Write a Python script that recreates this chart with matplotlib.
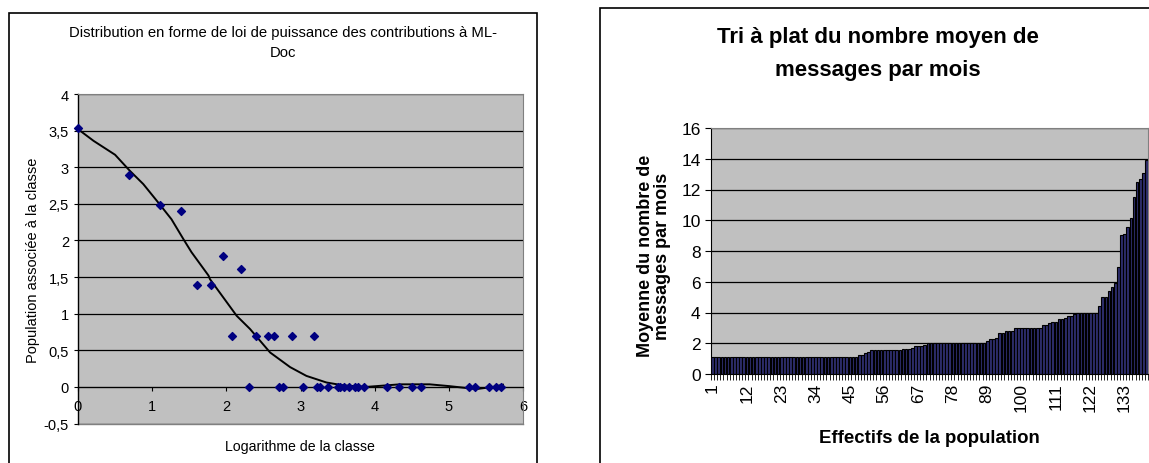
import numpy as np
import matplotlib
matplotlib.use("Agg")
import matplotlib.pyplot as plt
from matplotlib.patches import Rectangle
from matplotlib.ticker import FuncFormatter, FixedLocator

plt.rcParams["font.family"] = ["Liberation Sans", "DejaVu Sans"]

# ── DATA: left chart (log of class vs log of population) ─────────
log_classe = [0.0, 0.69, 1.10, 1.39, 1.61, 1.79, 1.95, 2.08, 2.20, 2.30,
              2.40, 2.56, 2.64, 2.71, 2.77, 2.89, 3.04, 3.18, 3.22, 3.26,
              3.37, 3.50, 3.53, 3.58, 3.66, 3.74, 3.78, 3.85, 4.17, 4.33,
              4.51, 4.62, 5.27, 5.35, 5.54, 5.64, 5.71]
log_pop = [3.53, 2.89, 2.48, 2.40, 1.39, 1.39, 1.79, 0.69, 1.61, 0.0,
           0.69, 0.69, 0.69, 0.0, 0.0, 0.69, 0.0, 0.69, 0.0, 0.0,
           0.0, 0.0, 0.0, 0.0, 0.0, 0.0, 0.0, 0.0, 0.0, 0.0,
           0.0, 0.0, 0.0, 0.0, 0.0, 0.0, 0.0]

# trend line
trend_x = [0.0, 0.21, 0.50, 0.70, 0.88, 1.08, 1.26, 1.42, 1.53, 1.76, 1.78,
           2.14, 2.32, 2.59, 2.86, 3.08, 3.35, 3.58, 3.89, 4.34, 4.74, 5.01,
           5.37, 5.60, 5.73]
trend_y = [3.52, 3.36, 3.17, 2.95, 2.77, 2.52, 2.29, 2.02, 1.84, 1.52, 1.47,
           0.97, 0.79, 0.47, 0.27, 0.15, 0.06, 0.02, 0.0, 0.035, 0.035, 0.01,
           -0.03, 0.0, 0.03]

# ── DATA: right chart (sorted mean messages per month) ───────────
moyenne = [
    1.1, 1.1, 1.1, 1.1, 1.1, 1.1, 1.1, 1.1, 1.1, 1.1,
    1.1, 1.1, 1.1, 1.1, 1.1, 1.1, 1.1, 1.1, 1.1, 1.1,
    1.1, 1.1, 1.1, 1.1, 1.1, 1.1, 1.1, 1.1, 1.1, 1.1,
    1.1, 1.1, 1.1, 1.1, 1.1, 1.1, 1.1, 1.1, 1.1, 1.1,
    1.1, 1.1, 1.1, 1.1, 1.1, 1.1, 1.1, 1.23, 1.23, 1.34,
    1.45, 1.56, 1.56, 1.56, 1.56, 1.56, 1.56, 1.56, 1.56, 1.56,
    1.56, 1.62, 1.62, 1.62, 1.7, 1.82, 1.82, 1.82, 1.9, 2.0,
    2.0, 2.0, 2.0, 2.0, 2.0, 2.0, 2.0, 2.0, 2.0, 2.0,
    2.0, 2.0, 2.0, 2.0, 2.0, 2.0, 2.0, 2.0, 2.17, 2.27,
    2.27, 2.33, 2.64, 2.64, 2.81, 2.81, 2.81, 3.0, 3.0, 3.0,
    3.0, 3.0, 3.0, 3.0, 3.0, 3.0, 3.18, 3.18, 3.29, 3.37,
    3.37, 3.55, 3.55, 3.64, 3.75, 3.75, 3.9, 4.0, 4.0, 4.0,
    4.0, 4.0, 4.0, 4.0, 4.4, 5.0, 5.0, 5.4, 5.67, 5.95,
    6.97, 9.03, 9.09, 9.59, 10.13, 11.5, 12.49, 12.7, 13.1, 13.9,
]
rang = np.arange(1, len(moyenne) + 1)
rang_labels = rang[::11]

W, H = 1149, 464
fig = plt.figure(figsize=(W / 100, H / 100), dpi=100)

def fx(px): return px / W
def fy(py): return 1 - py / H

# chart frames
fig.patches.append(Rectangle((fx(9), -0.05), fx(537) - fx(9), fy(14) + 0.05,
                             transform=fig.transFigure, fill=False, lw=1.2, ec="black"))
fig.patches.append(Rectangle((fx(600), -0.05), 0.5, fy(9) + 0.05,
                             transform=fig.transFigure, fill=False, lw=1.2, ec="black"))

comma = FuncFormatter(lambda v, p: f"{v:g}".replace(".", ","))

# ── LEFT CHART ───────────────────────────────────────────────────
ax1 = fig.add_axes([fx(78), fy(424.5), fx(523) - fx(78), fy(95) - fy(424.5)])
ax1.set_facecolor("#C0C0C0")
ax1.set_xlim(0, 6); ax1.set_ylim(-0.5, 4)
ax1.set_yticks(np.arange(-0.5, 4.01, 0.5))
ax1.yaxis.set_major_formatter(comma)
ax1.set_xticks(range(7))
ax1.grid(axis="y", color="black", lw=0.9)
ax1.set_axisbelow(True)
ax1.spines["bottom"].set_position(("data", 0))
for s in ["top", "right"]:
    ax1.spines[s].set_color("#808080")
ax1.spines["left"].set_lw(1.0)
ax1.tick_params(labelsize=10.5, length=3, width=0.8)
ax1.tick_params(axis="x", pad=6)
ax1.scatter(log_classe, log_pop, marker="D", s=16, color="#000080", zorder=3, clip_on=False)
ax1.plot(trend_x, trend_y, color="black", lw=1.4, zorder=2)
# gray bottom border of plot area
ax1.plot([0, 6], [-0.5, -0.5], color="#808080", lw=1, clip_on=False)
fig.text(fx(33), fy(260), "Population associée à la classe", fontsize=10.5,
         rotation=90, ha="center", va="center")
fig.text(fx(300), fy(447), "Logarithme de la classe", fontsize=10.2, ha="center", va="center")
fig.text(fx(283), fy(43), "Distribution en forme de loi de puissance des contributions à ML-\nDoc",
         fontsize=10.7, ha="center", va="center", linespacing=1.6)

# ── RIGHT CHART ──────────────────────────────────────────────────
ax2 = fig.add_axes([fx(711), fy(375), fx(1148) - fx(711), fy(129) - fy(375)])
ax2.set_facecolor("#C0C0C0")
ax2.bar(rang, moyenne, width=0.85, color="#2E2E6E", edgecolor="black", lw=0.8, zorder=2)
ax2.set_xlim(0.5, len(moyenne) + 0.5)
ax2.set_ylim(0, 16)
ax2.set_yticks(range(0, 17, 2))
ax2.grid(axis="y", color="black", lw=0.9)
ax2.set_axisbelow(True)
for s in ["top", "right"]:
    ax2.spines[s].set_color("#808080")
ax2.xaxis.set_major_locator(FixedLocator(rang_labels))
ax2.xaxis.set_minor_locator(FixedLocator(np.arange(0.5, len(moyenne) + 1, 1)))
ax2.set_xticklabels([str(v) for v in rang_labels], rotation=90)
ax2.tick_params(axis="x", which="major", length=0, labelsize=12.5, pad=6)
ax2.tick_params(axis="x", which="minor", length=4, width=0.6)
ax2.tick_params(axis="y", labelsize=12.5, length=4)
fig.text(fx(654), fy(256), "Moyenne du nombre de\nmessages par mois", fontsize=13,
         fontweight="bold", rotation=90, ha="center", va="center", linespacing=1.05)
fig.text(fx(929), fy(439), "Effectifs de la population", fontsize=13.4,
         fontweight="bold", ha="center", va="center")
fig.text(fx(878), fy(54), "Tri à plat du nombre moyen de\nmessages par mois",
         fontsize=16, fontweight="bold", ha="center", va="center", linespacing=1.75)

plt.savefig("out.png", dpi=100)
